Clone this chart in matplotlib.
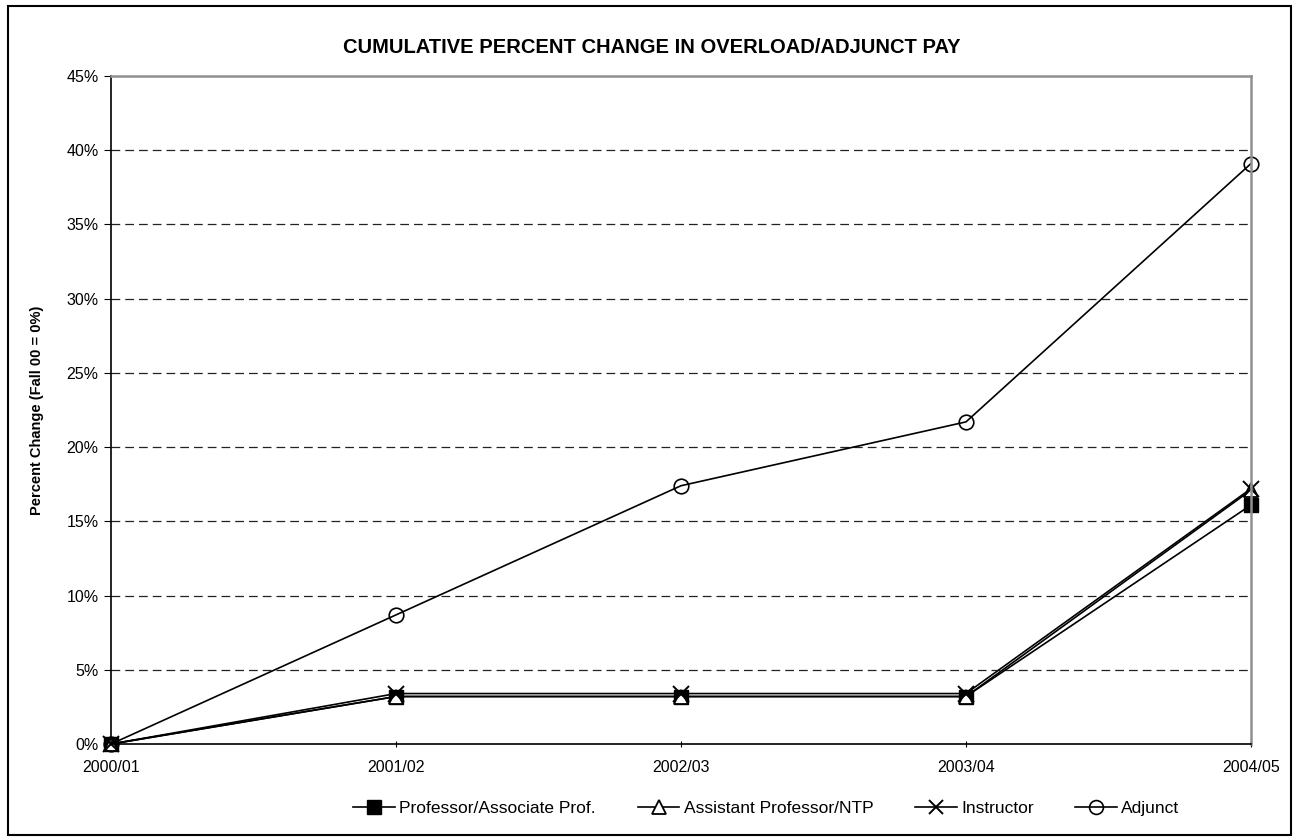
import matplotlib
matplotlib.use('Agg')
import matplotlib.pyplot as plt
from matplotlib.patches import Rectangle
from matplotlib.ticker import FuncFormatter

plt.rcParams['font.family'] = ['Liberation Sans', 'DejaVu Sans']

years = ['2000/01', '2001/02', '2002/03', '2003/04', '2004/05']
professor = [0, 3.2, 3.2, 3.2, 16.1]
assistant = [0, 3.2, 3.2, 3.2, 17.1]
instructor = [0, 3.4, 3.4, 3.4, 17.2]
adjunct = [0, 8.7, 17.4, 21.7, 39.1]

fig = plt.figure(figsize=(12.99, 8.39), dpi=100)
ax = fig.add_axes([0.0855, 0.1132, 0.8775, 0.7962])

x = range(len(years))
ax.plot(x, professor, color='black', lw=1.2, marker='s', ms=10.5,
        mfc='black', mec='black', label='Professor/Associate Prof.')
ax.plot(x, assistant, color='black', lw=1.2, marker='^', ms=10.5,
        mfc='white', mec='black', mew=1.3, label='Assistant Professor/NTP')
ax.plot(x, instructor, color='black', lw=1.2, marker='x', ms=11,
        mew=1.4, mec='black', label='Instructor')
ax.plot(x, adjunct, color='black', lw=1.2, marker='o', ms=10.5,
        mfc='none', mec='black', mew=1.2, label='Adjunct')

ax.set_xlim(0, 4)
ax.set_ylim(0, 45)
ax.set_xticks(list(x))
ax.set_xticklabels(years)
ax.set_yticks(range(0, 46, 5))
ax.yaxis.set_major_formatter(FuncFormatter(lambda v, p: '%d%%' % v))
ax.tick_params(axis='y', labelsize=11.5, length=5, color='black', pad=4)
ax.tick_params(axis='x', labelsize=11.5, length=5, direction='inout', color='black', pad=9)

for v in range(5, 45, 5):
    ax.axhline(v, color='#222222', lw=0.9, ls=(0, (7, 4)), zorder=0)

ax.spines['top'].set_color('#909090')
ax.spines['right'].set_color('#909090')
ax.spines['top'].set_linewidth(1.8)
ax.spines['right'].set_linewidth(1.8)
ax.spines['left'].set_linewidth(1.2)
ax.spines['bottom'].set_linewidth(1.2)

for ln in ax.lines[:4]:
    ln.set_clip_on(False)

ax.set_ylabel('Percent Change (Fall 00 = 0%)', fontsize=10.5, fontweight='bold', labelpad=16)
fig.text(0.502, 0.943, 'CUMULATIVE PERCENT CHANGE IN OVERLOAD/ADJUNCT PAY',
         ha='center', va='center', fontsize=14.5, fontweight='bold')

ax.legend(loc='center', bbox_to_anchor=(0.575, -0.097), ncol=4, frameon=False,
          fontsize=12.5, columnspacing=2.4, handlelength=2.4, handletextpad=0.25,
          markerscale=0.95)

fig.patches.append(Rectangle((0.006, 0.005), 0.988, 0.988, transform=fig.transFigure,
                             fill=False, edgecolor='black', lw=1.5))

fig.savefig('out.png', dpi=100)
